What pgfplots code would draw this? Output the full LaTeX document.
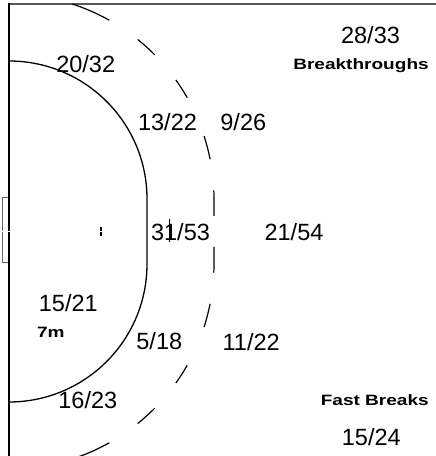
\documentclass[border=0pt]{standalone}
\usepackage{pgfplots}
\pgfplotsset{compat=1.18}
\usepackage{graphicx}
\usepackage{fontspec}
\setmainfont{Liberation Sans}

\begin{document}
\begin{tikzpicture}
\useasboundingbox (0,0) rectangle (436pt,456pt);
\begin{axis}[
  at={(0,0)}, anchor=south west,
  scale only axis, width=436pt, height=456pt,
  xmin=0, xmax=436, ymin=0, ymax=456,
  hide axis, clip=true,
]
% top border
\draw[black!65, line width=1.2pt] (axis cs:9,452) -- (axis cs:436,452);
% goal
\draw[black!60, line width=1pt] (axis cs:9,258) -- (axis cs:2.5,258) -- (axis cs:2.5,193) -- (axis cs:9,193);
% goal line
\draw[black, line width=2pt] (axis cs:9,452.6) -- (axis cs:9,0);
% 6m line
\draw[black, line width=1.3pt] (axis cs:9,395) arc[start angle=90,end angle=0,radius=138pt] -- (axis cs:147,192) arc[start angle=0,end angle=-90,radius=138pt];
% 4m goalkeeper line
\draw[black, line width=1.5pt] (axis cs:101,220) -- (axis cs:101,229);
% 7m line
\draw[black, line width=1pt] (axis cs:169,214) -- (axis cs:169,237);
% centre white mark
\draw[white, line width=1pt] (axis cs:0,224.5) -- (axis cs:140,224.5);
% 9m dashed line, upper half
\draw[black, line width=1.2pt] (axis cs:214,240) -- (axis cs:214,257) arc[start angle=0,end angle=2.4,radius=205pt];
\draw[black, line width=1.2pt] (axis cs:9,257) ++(11.2:205pt) arc[start angle=11.2,end angle=17.9,radius=205pt];
\draw[black, line width=1.2pt] (axis cs:9,257) ++(29.6:205pt) arc[start angle=29.6,end angle=35.5,radius=205pt];
\draw[black, line width=1.2pt] (axis cs:9,257) ++(44.7:205pt) arc[start angle=44.7,end angle=51.1,radius=205pt];
\draw[black, line width=1.2pt] (axis cs:9,257) ++(60.7:205pt) arc[start angle=60.7,end angle=72,radius=205pt];
% 9m dashed line, lower half
\draw[black, line width=1.2pt] (axis cs:214,209) -- (axis cs:214,192) arc[start angle=0,end angle=-2.4,radius=205pt];
\draw[black, line width=1.2pt] (axis cs:9,192) ++(-11.2:205pt) arc[start angle=-11.2,end angle=-17.9,radius=205pt];
\draw[black, line width=1.2pt] (axis cs:9,192) ++(-29.6:205pt) arc[start angle=-29.6,end angle=-35.5,radius=205pt];
\draw[black, line width=1.2pt] (axis cs:9,192) ++(-44.7:205pt) arc[start angle=-44.7,end angle=-51.1,radius=205pt];
\draw[black, line width=1.2pt] (axis cs:9,192) ++(-60.7:205pt) arc[start angle=-60.7,end angle=-72,radius=205pt];

% shot statistics (goals/attempts)
\addplot[only marks, mark=none, nodes near coords, point meta=explicit symbolic,
  every node near coord/.append style={anchor=base, inner sep=0pt, text=black, font=\fontsize{23.5}{28}\selectfont}]
  table[meta=label] {
x y label
370.5 412 28/33
85.7 383.7 20/32
167.5 325.3 13/22
243.3 325.3 9/26
180.5 215.3 31/53
294 215.3 21/54
68.3 144 15/21
159.3 106.3 5/18
251.2 105.7 11/22
87.8 48 16/23
371.3 10.3 15/24
};
% category captions
\addplot[only marks, mark=none, nodes near coords={\scalebox{1.27}[1]{\pgfplotspointmeta}}, point meta=explicit symbolic,
  every node near coord/.append style={anchor=base, inner sep=0pt, text=black, font=\fontsize{15}{18}\selectfont\bfseries}]
  table[meta=label] {
x y label
361 386 Breakthroughs
50.8 118.3 7m
374.8 50 {Fast Breaks}
};
\end{axis}
\end{tikzpicture}
\end{document}
